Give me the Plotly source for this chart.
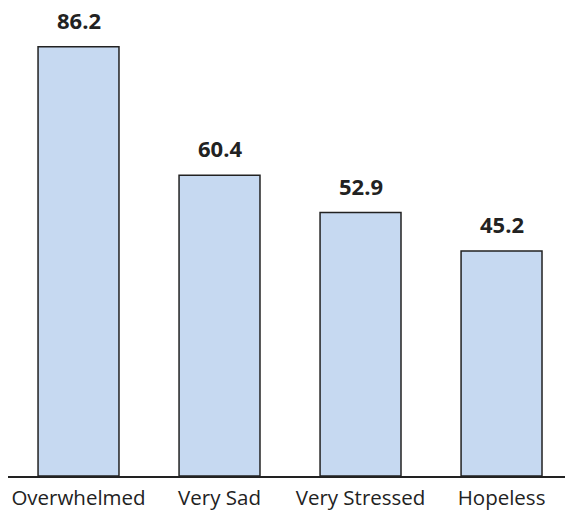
import plotly.graph_objects as go

categories = ["Overwhelmed", "Very Sad", "Very Stressed", "Hopeless"]
values = [86.2, 60.4, 52.9, 45.2]
value_labels = ["86.2", "60.4", "52.9", "45.2"]

FONT = "Open Sans, Noto Sans, sans-serif"

fig = go.Figure(
    go.Bar(
        x=categories,
        y=values,
        marker=dict(color="#c6d9f1", line=dict(color="#222222", width=1.5)),
        width=0.574,
    )
)

# value labels placed well above each bar
for cat, val, lab in zip(categories, values, value_labels):
    fig.add_annotation(
        x=cat,
        y=val,
        text=lab,
        showarrow=False,
        yanchor="bottom",
        yshift=10,
        font=dict(family=FONT, size=22, color="#222222", weight="bold"),
    )

fig.update_layout(
    width=565,
    height=513,
    margin=dict(l=8, r=0, t=0, b=37),
    plot_bgcolor="white",
    paper_bgcolor="white",
    showlegend=False,
    xaxis=dict(
        range=[-0.5, 3.45],
        showline=True,
        linecolor="#222222",
        linewidth=2,
        ticks="",
        ticklabelstandoff=2,
        showgrid=False,
        tickfont=dict(family=FONT, size=20.5, color="#222222"),
    ),
    yaxis=dict(
        range=[0, 95.6],
        visible=False,
        showgrid=False,
        zeroline=False,
    ),
)

fig.write_html("out.html")
